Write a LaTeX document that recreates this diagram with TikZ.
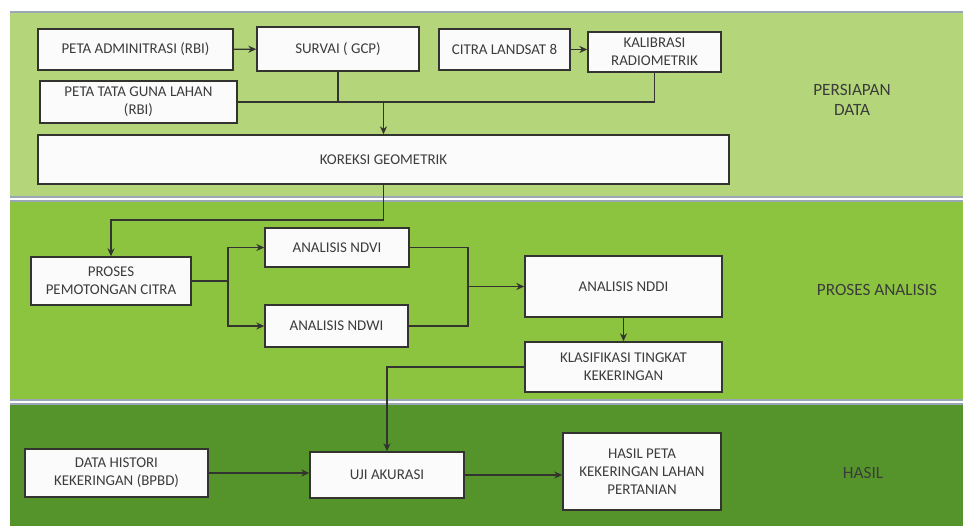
\documentclass[tikz,border=0pt]{standalone}
\usepackage{fontspec}
\setmainfont{Carlito}
\usetikzlibrary{arrows.meta}

\definecolor{hijaumuda}{HTML}{B4D57A}
\definecolor{hijausedang}{HTML}{8CC440}
\definecolor{hijautua}{HTML}{55942A}
\definecolor{warnagaris}{HTML}{33332F}
\definecolor{warnateks}{HTML}{3C3C3C}
\definecolor{batas}{HTML}{9AA7B5}

\tikzset{
  kotak/.style={draw=warnagaris,fill=white!97!gray,line width=0.9pt,inner sep=1pt,align=center,
    text=warnateks,font=\fontsize{8.5}{10.3}\selectfont},
  panah/.style={draw=warnagaris,line width=0.8pt,-{Stealth[length=4.5pt,width=4pt]}},
  hubung/.style={draw=warnagaris,line width=0.8pt},
  tahap/.style={text=warnateks,align=center,font=\fontsize{9.8}{11.5}\selectfont},
  pita/.style={draw=batas,line width=0.6pt}
}

\begin{document}
\begin{tikzpicture}[x=0.02cm,y=-0.02cm]
            \useasboundingbox (0,0) rectangle (963,526);
            \fill[white] (0,0) rectangle (963,526);

            %tiga pita tahapan
            \fill[hijaumuda] (10,12) rectangle (963,197);
            \fill[hijausedang] (10,201) rectangle (963,400);
            \fill[hijautua] (10,404) rectangle (963,526);
            \draw[pita] (10,12) -- (963,12);
            \draw[pita] (10,197) -- (963,197);
            \draw[pita] (10,201) -- (963,201);
            \draw[pita] (10,400) -- (963,400);
            \draw[pita] (10,404) -- (963,404);

            %persiapan data
            \node[kotak,minimum width=3.9cm,minimum height=0.82cm] (adm) at (135.5,49.5) {PETA ADMINITRASI (RBI)};
            \node[kotak,minimum width=3.24cm,minimum height=0.88cm] (survai) at (338,49) {SURVAI ( GCP)};
            \node[kotak,minimum width=2.62cm,minimum height=0.82cm] (citra) at (504.5,49.5) {CITRA LANDSAT 8};
            \node[kotak,minimum width=2.66cm,minimum height=0.8cm] (kalibrasi) at (654.5,52) {KALIBRASI\\RADIOMETRIK};
            \node[kotak,minimum width=3.94cm,minimum height=0.84cm] (lahan) at (138.5,102) {PETA TATA GUNA LAHAN\\(RBI)};
            \node[kotak,minimum width=13.82cm,minimum height=0.98cm] (koreksi) at (383.5,159.5) {KOREKSI GEOMETRIK};

            %proses analisis
            \node[kotak,minimum width=3.2cm,minimum height=0.96cm] (potong) at (111,281) {PROSES\\PEMOTONGAN CITRA};
            \node[kotak,minimum width=2.88cm,minimum height=0.78cm] (ndvi) at (337,247.5) {ANALISIS NDVI};
            \node[kotak,minimum width=2.86cm,minimum height=0.84cm] (ndwi) at (336.5,326) {ANALISIS NDWI};
            \node[kotak,minimum width=3.94cm,minimum height=1.22cm] (nddi) at (623.5,286.5) {ANALISIS NDDI};
            \node[kotak,minimum width=3.94cm,minimum height=1.0cm] (klasifikasi) at (623.5,367) {KLASIFIKASI TINGKAT\\KEKERINGAN};

            %hasil
            \node[kotak,minimum width=3.66cm,minimum height=0.96cm] (histori) at (116.5,473) {DATA HISTORI\\KEKERINGAN (BPBD)};
            \node[kotak,minimum width=3.08cm,minimum height=0.92cm] (uji) at (387,475) {UJI AKURASI};
            \node[kotak,minimum width=3.16cm,minimum height=1.54cm] (peta) at (642,471.5) {HASIL PETA\\KEKERINGAN LAHAN\\PERTANIAN};

            %label tahapan
            \node[tahap] (lbl1) at (852,100) {PERSIAPAN\\DATA};
            \node[tahap] (lbl2) at (877,290) {PROSES ANALISIS};
            \node[tahap] (lbl3) at (863,473) {HASIL};

            %garis penghubung
            \coordinate (gabung) at (383.5,102);
            \coordinate (belok) at (383.5,220);
            \coordinate (cabang) at (228,281);
            \coordinate (satu) at (468,286.5);

            \draw[panah] (adm) -- (survai);
            \draw[panah] (citra.east) -- (citra.east -| kalibrasi.west);
            \draw[hubung] (survai.south) -- (survai.south |- lahan.east);
            \draw[hubung] (lahan.east) -| (kalibrasi.south);
            \draw[panah] (gabung) -- (koreksi.north);
            \draw[panah] (koreksi.south) -- (belok) -| (potong.north);
            \draw[hubung] (potong.east) -- (cabang);
            \draw[panah] (cabang) |- (ndvi.west);
            \draw[panah] (cabang) |- (ndwi.west);
            \draw[hubung] (ndvi.east) -| (satu) |- (ndwi.east);
            \draw[panah] (satu) -- (nddi.west);
            \draw[panah] (nddi) -- (klasifikasi);
            \draw[panah] (klasifikasi.west) -| (uji.north);
            \draw[panah] (histori.east) -- (histori.east -| uji.west);
            \draw[panah] (uji.east) -- (uji.east -| peta.west);
        \end{tikzpicture}
\end{document}
